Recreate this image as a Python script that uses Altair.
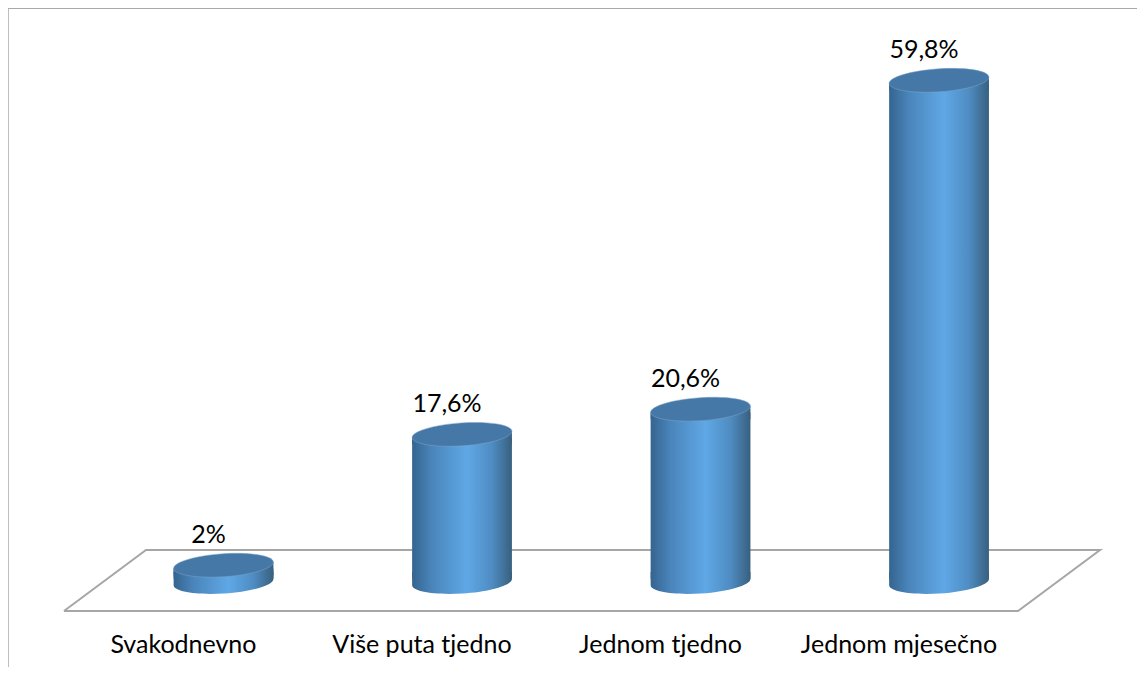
import altair as alt
import pandas as pd

categories = ["Svakodnevno", "Više puta tjedno", "Jednom tjedno", "Jednom mjesečno"]
positions = [0, 1, 2, 3]
values = [2.0, 17.6, 20.6, 59.8]
value_labels = ["2%", "17,6%", "20,6%", "59,8%"]
half_bar = 0.2092

floor_x = [-0.669, -0.325, 3.675, 3.331, -0.669]
floor_y = [-3.46, 3.81, 3.81, -3.46, -3.46]
floor_order = [0, 1, 2, 3, 4]

x_domain = [-0.9036, 3.830]
y_domain = [-10.13, 68.42]
label_y = -7.55
label_offset = 3.6
edge_inset = 0.4
cat_shift = -0.168
val_shift = -0.063

FONT = "Lato"
ELLIPSE = "M-49.9,3.3A50,11.5,-3.8,1,1,49.9,-3.3A50,11.5,-3.8,1,1,-49.9,3.3Z"
TOP_CAP = "M-49.9,3.3L49.9,-3.3L49.9,10L-49.9,10Z"
BOTTOM_CAP = "M-49.9,-10L49.9,-10L49.9,-3.3A50,11.5,-3.8,1,1,-49.9,3.3Z"

bars = pd.DataFrame({
    "cat": categories, "pos": positions, "val": values, "label": value_labels,
})
bars["left"] = bars["pos"] - half_bar
bars["right"] = bars["pos"] + half_bar
bars["base"] = 0.0
bars["side_top"] = bars["val"] - edge_inset
bars["side_bottom"] = edge_inset
bars["label_y"] = bars["val"] + label_offset
bars["cat_y"] = label_y
bars["cat_x"] = bars["pos"] + cat_shift
bars["val_x"] = bars["pos"] + val_shift
floor = pd.DataFrame({"x": floor_x, "y": floor_y, "o": floor_order})
frame_left = pd.DataFrame({"x": [x_domain[0]], "y": [y_domain[0]], "y2": [y_domain[1]]})
frame_top = pd.DataFrame({"x": [x_domain[0]], "x2": [x_domain[1]], "y": [y_domain[1]]})

X = lambda f: alt.X(f, type="quantitative", scale=alt.Scale(domain=x_domain, nice=False, zero=False), axis=None)
Y = lambda f: alt.Y(f, type="quantitative", scale=alt.Scale(domain=y_domain, nice=False, zero=False), axis=None)

side = alt.Gradient(
    gradient="linear", x1=0, x2=1, y1=0, y2=0,
    stops=[
        alt.GradientStop(offset=0, color="#35648f"),
        alt.GradientStop(offset=0.2, color="#4a85bb"),
        alt.GradientStop(offset=0.55, color="#5fa8e6"),
        alt.GradientStop(offset=0.8, color="#4f8cc2"),
        alt.GradientStop(offset=1, color="#38607f"),
    ],
)

frame_color = "#a9a9a9"
l_frame = alt.Chart(frame_left).mark_rule(color=frame_color, strokeWidth=1.5).encode(x=X("x"), y=Y("y"), y2="y2")
t_frame = alt.Chart(frame_top).mark_rule(color=frame_color, strokeWidth=2).encode(x=X("x"), x2="x2", y=Y("y"))
l_floor = alt.Chart(floor).mark_line(color="#a6a6a6", strokeWidth=2).encode(x=X("x"), y=Y("y"), order="o")
l_bottom = alt.Chart(bars).mark_point(shape=BOTTOM_CAP, size=4, filled=True, fill=side, opacity=1, strokeWidth=0).encode(x=X("pos"), y=Y("base"))
l_side = alt.Chart(bars).mark_rect(fill=side).encode(x=X("left"), x2="right", y=Y("side_top"), y2="side_bottom")
l_cap = alt.Chart(bars).mark_point(shape=TOP_CAP, size=4, filled=True, fill=side, opacity=1, strokeWidth=0).encode(x=X("pos"), y=Y("val"))
l_top = alt.Chart(bars).mark_point(shape=ELLIPSE, size=4, filled=True, fill="#4678a7", opacity=1, stroke="#7fa6c9", strokeWidth=0.5).encode(x=X("pos"), y=Y("val"))
l_vals = alt.Chart(bars).mark_text(font=FONT, fontSize=25, color="#000000").encode(x=X("val_x"), y=Y("label_y"), text="label")
l_cats = alt.Chart(bars).mark_text(font=FONT, fontSize=25, color="#000000").encode(x=X("cat_x"), y=Y("cat_y"), text="cat")

chart = alt.layer(l_frame, t_frame, l_floor, l_bottom, l_side, l_cap, l_top, l_vals, l_cats).properties(
    width=1129, height=659, padding=0, autosize=alt.AutoSizeParams(type="none"), background="white",
).configure_view(stroke=None)

chart.save("out.html", embed_options={"renderer": "svg", "actions": False})
